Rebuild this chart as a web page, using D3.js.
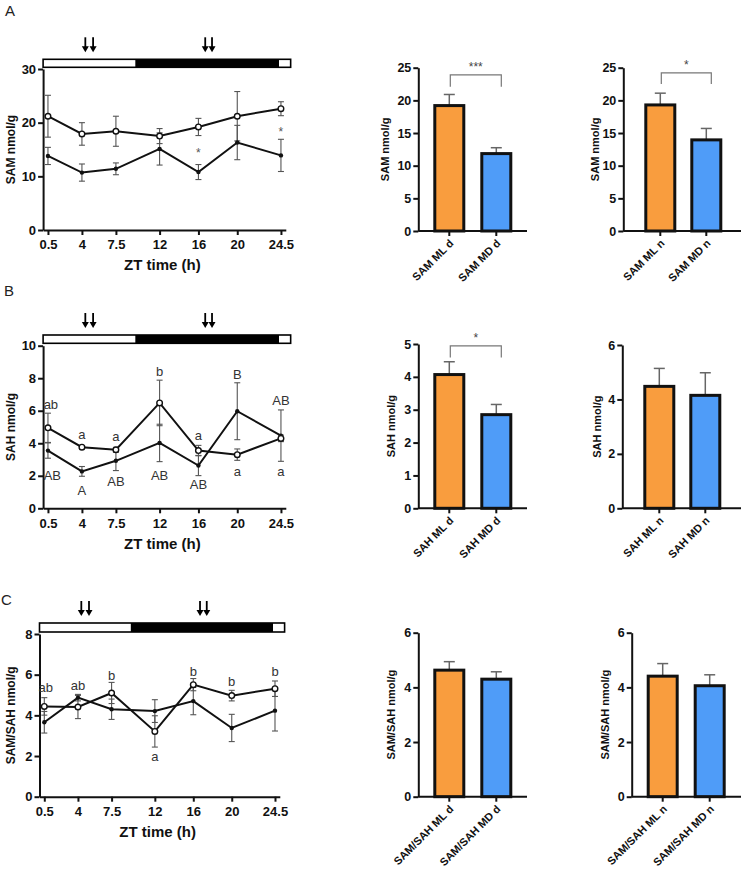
<!DOCTYPE html>
<html><head><meta charset="utf-8">
<script src="https://cdn.jsdelivr.net/npm/d3@7"></script>
<style>
body{margin:0;background:#fff}
svg{display:block}
text{font-family:"Liberation Sans",Arial,sans-serif}
</style>
</head><body>
<svg id="c" width="747" height="876"></svg>
<script>
// ---------- shared ----------
const zt = [0.5, 4, 7.5, 12, 16, 20, 24.5];
const ztTickLabels = ["0.5", "4", "7.5", "12", "16", "20", "24.5"];
const phaseBounds = [0, 9.5, 24.3, 25.5];
const phaseDark = [false, true, false];
const arrowTimes = [4.35, 5.15, 16.7, 17.4];

// ---------- Panel A : SAM time course ----------
const samOpen = [21.2, 17.9, 18.4, 17.5, 19.2, 21.2, 22.6];
const samOpenErr = [3.9, 2.1, 2.8, 1.4, 1.6, 4.6, 1.3];
const samFilled = [13.8, 10.7, 11.4, 15.1, 10.8, 16.3, 13.9];
const samFilledErr = [1.6, 1.6, 1.1, 3.0, 1.4, 3.2, 3.0];
const samYTicks = [0, 10, 20, 30];
const samStars = [{t: "*", x: 16, y: 14.9}, {t: "*", x: 24.5, y: 18.75}];

// ---------- Panel B : SAH time course ----------
const sahOpen = [4.95, 3.76, 3.6, 6.48, 3.55, 3.3, 4.3];
const sahOpenErr = [0.9, 0.1, 0.15, 1.4, 0.32, 0.35, 0.2];
const sahFilled = [3.55, 2.27, 2.92, 4.02, 2.63, 5.97, 4.47];
const sahFilledErr = [0.47, 0.3, 0.6, 1.15, 0.62, 1.75, 1.58];
const sahYTicks = [0, 2, 4, 6, 8, 10];
const sahLetters = [
  {t: "ab", x: 0.8, y: 6.1}, {t: "a", x: 4, y: 4.26}, {t: "a", x: 7.5, y: 4.14},
  {t: "b", x: 12, y: 8.14}, {t: "a", x: 16, y: 4.2}, {t: "a", x: 20, y: 1.99}, {t: "a", x: 24.5, y: 1.99},
  {t: "AB", x: 0.95, y: 1.74}, {t: "A", x: 4, y: 0.82}, {t: "AB", x: 7.5, y: 1.37},
  {t: "AB", x: 12, y: 1.74}, {t: "AB", x: 16, y: 1.19}, {t: "B", x: 20, y: 7.95}, {t: "AB", x: 24.5, y: 6.36}
];

// ---------- Panel C : SAM/SAH time course ----------
const ratioOpen = [4.44, 4.41, 5.1, 3.21, 5.51, 4.97, 5.31];
const ratioOpenErr = [0.43, 0.57, 0.52, 0.77, 0.3, 0.26, 0.38];
const ratioFilled = [3.66, 4.87, 4.3, 4.21, 4.7, 3.38, 4.23];
const ratioFilledErr = [0.53, 0.16, 0.5, 0.56, 0.67, 0.67, 1.0];
const ratioYTicks = [0, 2, 4, 6, 8];
const ratioLetters = [
  {t: "ab", x: 0.65, y: 5.15}, {t: "ab", x: 4, y: 5.25}, {t: "b", x: 7.5, y: 5.74},
  {t: "a", x: 12, y: 1.75}, {t: "b", x: 16, y: 5.94}, {t: "b", x: 20, y: 5.45}, {t: "b", x: 24.5, y: 5.94}
];

// ---------- Bar charts ----------
const samDayLabels = ["SAM ML d", "SAM MD d"];
const samDayVals = [19.2, 11.85];
const samDayErr = [1.7, 0.9];
const samNightLabels = ["SAM ML n", "SAM MD n"];
const samNightVals = [19.3, 13.95];
const samNightErr = [1.8, 1.75];
const sahDayLabels = ["SAH ML d", "SAH MD d"];
const sahDayVals = [4.07, 2.85];
const sahDayErr = [0.39, 0.31];
const sahNightLabels = ["SAH ML n", "SAH MD n"];
const sahNightVals = [4.48, 4.15];
const sahNightErr = [0.66, 0.83];
const ratioDayLabels = ["SAM/SAH ML d", "SAM/SAH MD d"];
const ratioDayVals = [4.63, 4.30];
const ratioDayErr = [0.31, 0.27];
const ratioNightLabels = ["SAM/SAH ML n", "SAM/SAH MD n"];
const ratioNightVals = [4.41, 4.06];
const ratioNightErr = [0.46, 0.40];
const barColors = ["#F99D3E", "#4F9CF8"];

const svg = d3.select("#c");
svg.append("rect").attr("width", 747).attr("height", 876).attr("fill", "#fff");

// panel letters
[["A", 5, 16], ["B", 4, 296], ["C", 1, 605]].forEach(([t, x, y]) =>
  svg.append("text").attr("x", x).attr("y", y).attr("font-size", 15).attr("fill", "#222").text(t));

function styleAxis(sel, fs) {
  sel.select(".domain").attr("stroke", "#111").attr("stroke-width", 2);
  sel.selectAll(".tick line").attr("stroke", "#111").attr("stroke-width", 2);
  sel.selectAll(".tick text").attr("font-size", fs).attr("font-weight", "bold").attr("fill", "#111")
    .attr("font-family", "'Liberation Sans',Arial,sans-serif");
}

function lineChart(o) {
  const g = svg.append("g");
  const x = d3.scaleLinear().domain([0, 25]).range([o.x0, o.x25]);
  const y = d3.scaleLinear().domain([0, o.yMax]).range([o.yBottom, o.yTop]);

  // light/dark bar
  phaseDark.forEach((dk, i) => {
    g.append("rect").attr("x", x(phaseBounds[i])).attr("y", o.barTop)
      .attr("width", x(phaseBounds[i + 1]) - x(phaseBounds[i])).attr("height", o.barH)
      .attr("fill", dk ? "#000" : "#fff");
  });
  g.append("rect").attr("x", x(phaseBounds[0])).attr("y", o.barTop)
    .attr("width", x(phaseBounds[3]) - x(phaseBounds[0])).attr("height", o.barH)
    .attr("fill", "none").attr("stroke", "#000").attr("stroke-width", 1.6);

  // arrows
  arrowTimes.forEach(t => {
    const ax = x(t), top = o.barTop - 22, bot = o.barTop - 7;
    g.append("line").attr("x1", ax).attr("x2", ax).attr("y1", top).attr("y2", bot - 5)
      .attr("stroke", "#000").attr("stroke-width", 1.8);
    g.append("path").attr("d", `M${ax - 3.5},${bot - 6}L${ax + 3.5},${bot - 6}L${ax},${bot}Z`).attr("fill", "#000");
  });

  // axes
  const ya = g.append("g").attr("transform", `translate(${x(0)},0)`)
    .call(d3.axisLeft(y).tickValues(o.yTicks).tickFormat(d3.format("d")).tickSize(5).tickSizeOuter(0).tickPadding(2));
  styleAxis(ya, 13);
  const xa = g.append("g").attr("transform", `translate(0,${y(0)})`)
    .call(d3.axisBottom(x).tickValues(zt).tickFormat((d, i) => ztTickLabels[i]).tickSize(5).tickSizeOuter(0).tickPadding(5));
  styleAxis(xa, 13);

  g.append("text").attr("x", (x(0.5) + x(24.5)) / 2 - 2).attr("y", o.xTitleY)
    .attr("text-anchor", "middle").attr("font-size", 15).attr("font-weight", "bold").attr("fill", "#111")
    .text("ZT time (h)");
  g.append("text").attr("transform", `translate(15,${(o.yBottom + o.yTop) / 2}) rotate(-90)`)
    .attr("text-anchor", "middle").attr("font-size", 12).attr("font-weight", "bold").attr("fill", "#111")
    .text(o.yTitle);

  // error bars
  const series = [[o.open, o.openErr], [o.filled, o.filledErr]];
  series.forEach(([vals, errs]) => {
    vals.forEach((v, i) => {
      const cx = x(zt[i]);
      g.append("line").attr("x1", cx).attr("x2", cx).attr("y1", y(v - errs[i])).attr("y2", y(v + errs[i]))
        .attr("stroke", "#555").attr("stroke-width", 1.1);
      [v - errs[i], v + errs[i]].forEach(e =>
        g.append("line").attr("x1", cx - 3).attr("x2", cx + 3).attr("y1", y(e)).attr("y2", y(e))
          .attr("stroke", "#555").attr("stroke-width", 1.1));
    });
  });

  const line = d3.line().x((d, i) => x(zt[i])).y(d => y(d));
  [o.filled, o.open].forEach(vals =>
    g.append("path").attr("d", line(vals)).attr("fill", "none").attr("stroke", "#111").attr("stroke-width", 2));

  o.filled.forEach((v, i) =>
    g.append("circle").attr("cx", x(zt[i])).attr("cy", y(v)).attr("r", 2.2).attr("fill", "#111"));
  o.open.forEach((v, i) =>
    g.append("circle").attr("cx", x(zt[i])).attr("cy", y(v)).attr("r", 2.8).attr("fill", "#fff")
      .attr("stroke", "#111").attr("stroke-width", 1.4));

  (o.letters || []).forEach(l =>
    g.append("text").attr("x", x(l.x)).attr("y", y(l.y)).attr("text-anchor", "middle")
      .attr("font-size", 13).attr("fill", "#333").text(l.t));
  (o.stars || []).forEach(s =>
    g.append("text").attr("x", x(s.x)).attr("y", y(s.y) + 7).attr("text-anchor", "middle")
      .attr("font-size", 12).attr("fill", "#555").text(s.t));
}

lineChart({x0: 43.1, x25: 285.8, yBottom: 230, yTop: 69, yMax: 30, yTicks: samYTicks,
  barTop: 59.3, barH: 8, xTitleY: 270, yTitle: "SAM nmol/g",
  open: samOpen, openErr: samOpenErr, filled: samFilled, filledErr: samFilledErr, stars: samStars});
lineChart({x0: 43.1, x25: 285.8, yBottom: 508.3, yTop: 345.7, yMax: 10, yTicks: sahYTicks,
  barTop: 335, barH: 8.3, xTitleY: 549, yTitle: "SAH nmol/g",
  open: sahOpen, openErr: sahOpenErr, filled: sahFilled, filledErr: sahFilledErr, letters: sahLetters});
lineChart({x0: 39.5, x25: 279.8, yBottom: 796.7, yTop: 634, yMax: 8, yTicks: ratioYTicks,
  barTop: 623, barH: 9, xTitleY: 837, yTitle: "SAM/SAH nmol/g",
  open: ratioOpen, openErr: ratioOpenErr, filled: ratioFilled, filledErr: ratioFilledErr, letters: ratioLetters});

function barChart(o) {
  const g = svg.append("g");
  const x = d3.scalePoint().domain(o.labels).range([o.axisX + o.c1, o.axisX + o.c2]);
  const y = d3.scaleLinear().domain([0, o.yMax]).range([o.y0, o.yTop]);
  const bw = 29;

  // error bars (upper)
  o.vals.forEach((v, i) => {
    const cx = x(o.labels[i]);
    g.append("line").attr("x1", cx).attr("x2", cx).attr("y1", y(v)).attr("y2", y(v + o.errs[i]))
      .attr("stroke", "#666").attr("stroke-width", 1.5);
    g.append("line").attr("x1", cx - 5.5).attr("x2", cx + 5.5).attr("y1", y(v + o.errs[i])).attr("y2", y(v + o.errs[i]))
      .attr("stroke", "#666").attr("stroke-width", 1.5);
  });
  // bars
  o.vals.forEach((v, i) => {
    const cx = x(o.labels[i]);
    g.append("rect").attr("x", cx - bw / 2).attr("y", y(v)).attr("width", bw).attr("height", y(0) - y(v))
      .attr("fill", barColors[i]).attr("stroke", "#111").attr("stroke-width", 3);
  });

  // y axis
  const ya = g.append("g").attr("transform", `translate(${o.axisX},0)`)
    .call(d3.axisLeft(y).tickValues(o.yTicks).tickFormat(d3.format("d")).tickSize(5).tickSizeOuter(0).tickPadding(2));
  styleAxis(ya, 12.5);
  // x axis
  g.append("line").attr("x1", o.axisX).attr("x2", o.xEnd).attr("y1", y(0)).attr("y2", y(0))
    .attr("stroke", "#111").attr("stroke-width", 2);
  o.labels.forEach(l => {
    const cx = x(l);
    g.append("line").attr("x1", cx).attr("x2", cx).attr("y1", y(0)).attr("y2", y(0) + 5)
      .attr("stroke", "#111").attr("stroke-width", 2);
    g.append("text").attr("transform", `translate(${cx + 5},${y(0) + 13}) rotate(-45)`)
      .attr("text-anchor", "end").attr("font-size", 11).attr("font-weight", "bold").attr("fill", "#111").text(l);
  });
  g.append("text").attr("transform", `translate(${o.axisX - o.titleOff},${(o.y0 + o.yTop) / 2}) rotate(-90)`)
    .attr("text-anchor", "middle").attr("font-size", 11).attr("font-weight", "bold").attr("fill", "#111")
    .text(o.yTitle);

  if (o.sig) {
    const x1 = x(o.labels[0]) + 1, x2 = x(o.labels[1]) + 5;
    g.append("path").attr("d", `M${x1},${y(o.sig.bottom)}V${y(o.sig.top)}H${x2}V${y(o.sig.bottom)}`)
      .attr("fill", "none").attr("stroke", "#777").attr("stroke-width", 1.2);
    g.append("text").attr("x", (x1 + x2) / 2).attr("y", y(o.sig.top) - 3.5).attr("text-anchor", "middle")
      .attr("font-size", 12).attr("fill", "#444").text(o.sig.t);
  }
}

barChart({labels: samDayLabels, vals: samDayVals, errs: samDayErr, axisX: 418.3, xEnd: 527, c1: 31, c2: 78,
  y0: 231, yTop: 67.7, yMax: 25, yTicks: [0, 5, 10, 15, 20, 25], yTitle: "SAM nmol/g", titleOff: 29,
  sig: {t: "***", top: 23.9, bottom: 22.1}});
barChart({labels: samNightLabels, vals: samNightVals, errs: samNightErr, axisX: 623.3, xEnd: 741, c1: 37, c2: 83,
  y0: 231, yTop: 67.7, yMax: 25, yTicks: [0, 5, 10, 15, 20, 25], yTitle: "SAM nmol/g", titleOff: 24,
  sig: {t: "*", top: 24.2, bottom: 22.5}});
barChart({labels: sahDayLabels, vals: sahDayVals, errs: sahDayErr, axisX: 418.3, xEnd: 527, c1: 31, c2: 78,
  y0: 508.3, yTop: 344, yMax: 5, yTicks: [0, 1, 2, 3, 4, 5], yTitle: "SAH nmol/g", titleOff: 23,
  sig: {t: "*", top: 4.94, bottom: 4.59}});
barChart({labels: sahNightLabels, vals: sahNightVals, errs: sahNightErr, axisX: 622.3, xEnd: 741, c1: 37, c2: 83,
  y0: 508.3, yTop: 345, yMax: 6, yTicks: [0, 2, 4, 6], yTitle: "SAH nmol/g", titleOff: 21});
barChart({labels: ratioDayLabels, vals: ratioDayVals, errs: ratioDayErr, axisX: 418.3, xEnd: 527, c1: 31, c2: 78,
  y0: 796.7, yTop: 632.7, yMax: 6, yTicks: [0, 2, 4, 6], yTitle: "SAM/SAH nmol/g", titleOff: 23});
barChart({labels: ratioNightLabels, vals: ratioNightVals, errs: ratioNightErr, axisX: 631.7, xEnd: 741, c1: 31, c2: 78,
  y0: 796.7, yTop: 632.7, yMax: 6, yTicks: [0, 2, 4, 6], yTitle: "SAM/SAH nmol/g", titleOff: 23});
</script>
</body></html>
